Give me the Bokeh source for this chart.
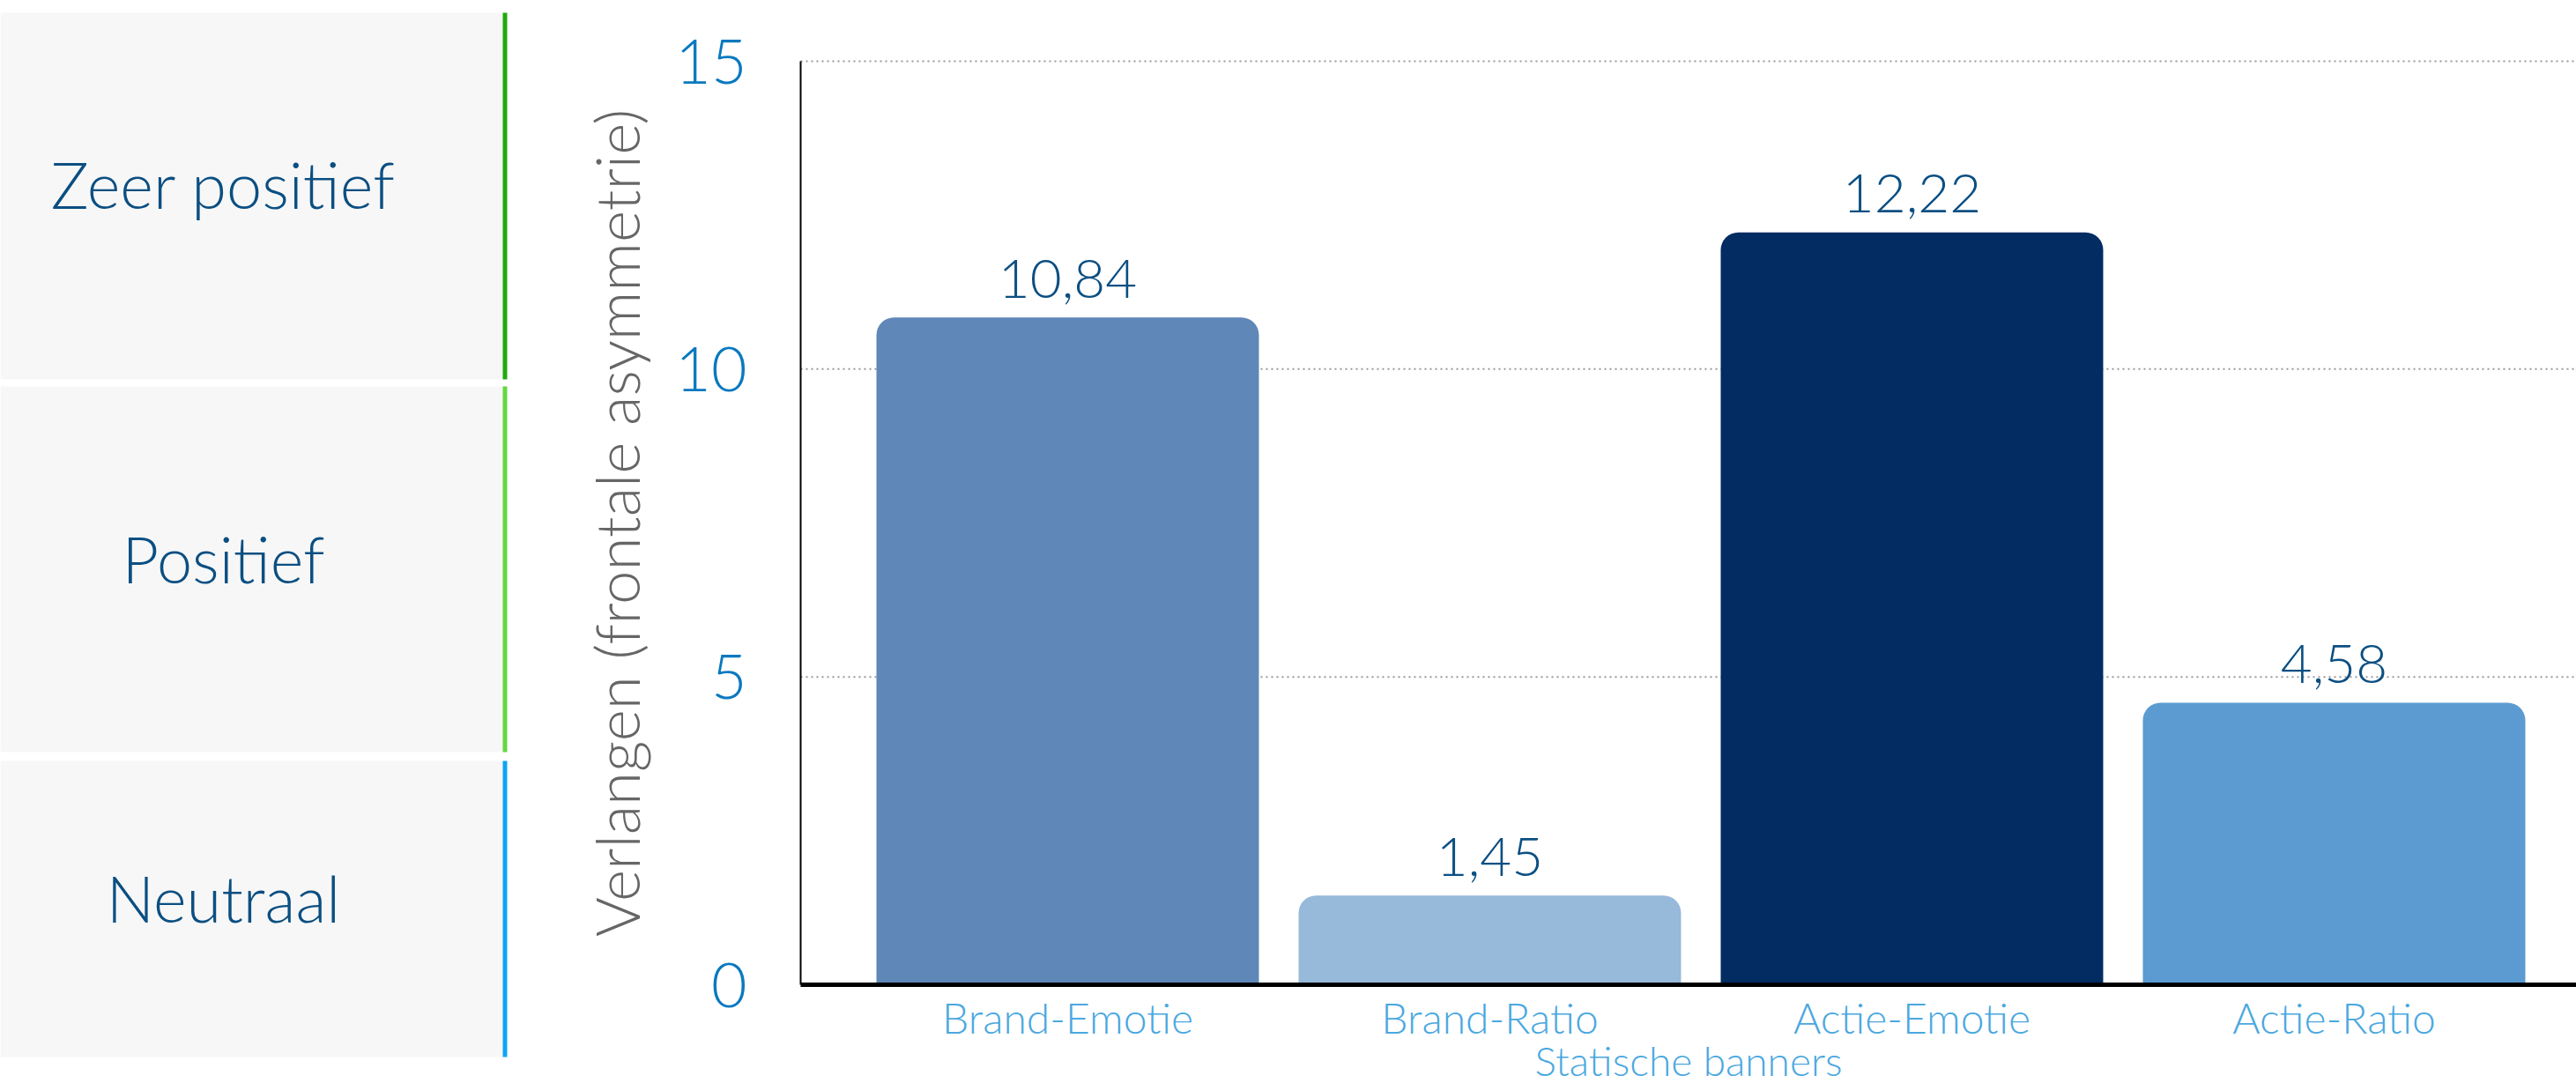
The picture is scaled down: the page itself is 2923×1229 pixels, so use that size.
from bokeh.plotting import figure
from bokeh.models import Range1d, FixedTicker, ColumnDataSource
from bokeh.core.properties import value
from bokeh.embed import file_html
from bokeh.resources import INLINE

# ---- data ----
categories = ["Brand-Emotie", "Brand-Ratio", "Actie-Emotie", "Actie-Ratio"]
values = [10.84, 1.45, 12.22, 4.58]
bar_colors = ["#5f87b8", "#97b9da", "#022c62", "#5b9bd1"]
y_ticks = [0, 5, 10, 15]
levels = ["Zeer positief", "Positief", "Neutraal"]
level_colors = ["#1faa0c", "#62d840", "#0ea5f5"]
x_title = "Statische banners"
y_title = "Verlangen (frontale asymmetrie)"

FONT_NAME = "'Lato Light', Lato"
FONT = value(FONT_NAME)
TEXT_DARK = "#0b4f82"

# ---- layout constants (pixels) ----
W, H = 2923, 1229
AX_PX, TOP_PX, BASE_PX = 908, 69, 1117
C1_PX, STEP_PX = 1211, 479
BASELINE_SHIFT = 0.37  # em: rendered alphabetic baseline sits this much lower

ppu_y = (BASE_PX - TOP_PX) / 15.0
y_start = -(H - BASE_PX) / ppu_y
y_end = 15 + TOP_PX / ppu_y
x_start = 1 - C1_PX / STEP_PX
x_end = x_start + W / STEP_PX
ax_x = x_start + AX_PX / STEP_PX

p = figure(width=W, height=H, x_range=Range1d(x_start, x_end), y_range=Range1d(y_start, y_end),
           output_backend="svg", toolbar_location=None, min_border=0)
p.extra_x_ranges = {"px": Range1d(0, W)}
p.extra_y_ranges = {"px": Range1d(H, 0)}
p.grid.visible = False
p.outline_line_color = None
p.background_fill_color = "white"

# ---- left panel (scale of feelings) ----
panel_top = [14, 438, 863]
panel_bottom = [430, 853, 1199]
p.quad(left=0, right=570, top=panel_top, bottom=panel_bottom,
       fill_color="#f7f7f7", line_color=None, x_range_name="px", y_range_name="px")
p.quad(left=570, right=575, top=panel_top, bottom=panel_bottom,
       fill_color=level_colors, line_color=None, x_range_name="px", y_range_name="px")
label_fs = 72
label_base = [237, 662, 1047]
p.text(x=253, y=[b - 0.40 * label_fs for b in label_base], text=levels, text_align="center",
       text_baseline="alphabetic", text_font=FONT, text_font_size=f"{label_fs}px",
       text_color=TEXT_DARK, x_range_name="px", y_range_name="px")

# ---- gridlines ----
grid_vals = [t for t in y_ticks if t > 0]
p.segment(x0=ax_x, x1=x_end, y0=grid_vals, y1=grid_vals, line_color="#999999",
          line_width=2, line_dash="2 4")

# ---- bars ----
xs = [i + 1 for i in range(len(categories))]
labels = [f"{v:.2f}".replace(".", ",") for v in values]
val_fs = 62
label_pos = [v + (21 + BASELINE_SHIFT * val_fs) / ppu_y for v in values]
src = ColumnDataSource(dict(x=xs, top=values, color=bar_colors, label=labels, ly=label_pos))

p.vbar(x="x", top="top", bottom=0, width=0.906, source=src, fill_color="color",
       line_color=None, border_radius=(20, 20, 0, 0))
p.text(x="x", y="ly", text="label", source=src, text_align="center",
       text_baseline="alphabetic", text_font=FONT,
       text_font_size=f"{val_fs}px", text_color=TEXT_DARK)

# ---- axes ----
xa = p.xaxis[0]
xa.fixed_location = 0
xa.bounds = (ax_x, x_end)
xa.ticker = FixedTicker(ticks=xs)
xa.major_label_overrides = {x: c for x, c in zip(xs, categories)}
xa.major_label_text_font = FONT_NAME
xa.major_label_text_font_size = "48px"
xa.major_label_text_color = "#4aa8e0"
xa.major_label_standoff = 2
xa.major_tick_line_color = None
xa.minor_tick_line_color = None
xa.axis_line_color = "black"
xa.axis_line_width = 5
xa.axis_label = x_title
xa.axis_label_text_font = FONT_NAME
xa.axis_label_text_font_size = "46px"
xa.axis_label_text_font_style = "normal"
xa.axis_label_text_color = "#4aa8e0"
xa.axis_label_standoff = -10

ya = p.yaxis[0]
ya.fixed_location = ax_x
ya.bounds = (0, 15)
ya.ticker = FixedTicker(ticks=y_ticks)
ya.major_label_text_font = FONT_NAME
ya.major_label_text_font_size = "70px"
ya.major_label_text_color = "#0a79bf"
ya.major_label_standoff = 55
ya.major_tick_line_color = None
ya.minor_tick_line_color = None
ya.axis_line_color = "black"
ya.axis_line_width = 2
ya.axis_label = y_title
ya.axis_label_text_font = FONT_NAME
ya.axis_label_text_font_size = "69px"
ya.axis_label_text_font_style = "normal"
ya.axis_label_text_color = "#666666"
ya.axis_label_standoff = 22

open("out.html", "w").write(file_html(p, INLINE))
